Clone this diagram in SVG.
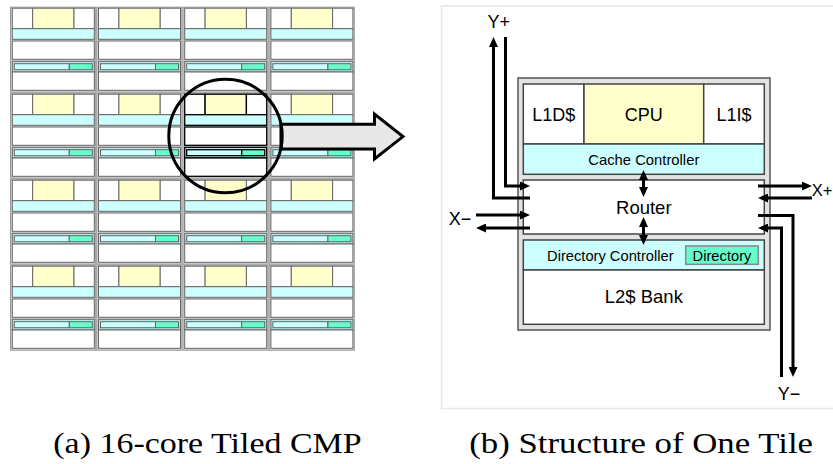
<svg xmlns="http://www.w3.org/2000/svg" xmlns:xlink="http://www.w3.org/1999/xlink" width="833" height="464" viewBox="0 0 833 464">
<style>
.lbl{font-family:"Liberation Sans",Arial,sans-serif;fill:#000;text-anchor:middle}
.cap{font-family:"Liberation Serif","Times New Roman",serif;font-size:28.5px;fill:#000}
.box{stroke:#444;stroke-width:1.5}
.wire{fill:none;stroke:#000;stroke-width:3;stroke-linejoin:miter}
</style>
<defs>
<marker id="ah" markerUnits="userSpaceOnUse" markerWidth="10" markerHeight="9" refX="3" refY="4.5" orient="auto-start-reverse">
<path d="M0,0 L10,4.5 L0,9 z" fill="#000"/>
</marker>
<symbol id="tile" overflow="visible">
<rect x="0.5" y="0.5" width="85.2" height="85" fill="#d6d6d6" stroke="#999" stroke-width="1"/>
<rect x="2.3" y="1.5" width="20.4" height="20.5" fill="#fff"/>
<rect x="22.7" y="1.5" width="41.3" height="20.5" fill="#ffffcc"/>
<rect x="64" y="1.5" width="20.3" height="20.5" fill="#fff"/>
<rect x="2.3" y="22" width="82" height="10.6" fill="#ccffff"/>
<rect x="2.3" y="34.3" width="82" height="18.3" fill="#fff"/>
<rect x="2.3" y="54.6" width="82" height="10.7" fill="#b4e6e6"/>
<rect x="4.3" y="57" width="55" height="6" fill="#ccffff"/>
<rect x="59.3" y="57" width="23" height="6" fill="#66ffcc"/>
<rect x="2.3" y="65.3" width="82" height="18.3" fill="#fff"/>
</symbol>
</defs>
<rect width="833" height="464" fill="#fff"/>

<g id="grid">
<use xlink:href="#tile" x="10" y="6.7" stroke="#666" stroke-width="1"/>
<use xlink:href="#tile" x="96.2" y="6.7" stroke="#666" stroke-width="1"/>
<use xlink:href="#tile" x="182.4" y="6.7" stroke="#666" stroke-width="1"/>
<use xlink:href="#tile" x="268.6" y="6.7" stroke="#666" stroke-width="1"/>
<use xlink:href="#tile" x="10" y="92.7" stroke="#666" stroke-width="1"/>
<use xlink:href="#tile" x="96.2" y="92.7" stroke="#666" stroke-width="1"/>
<use xlink:href="#tile" x="182.4" y="92.7" stroke="#000" stroke-width="1.3"/>
<use xlink:href="#tile" x="268.6" y="92.7" stroke="#666" stroke-width="1"/>
<use xlink:href="#tile" x="10" y="178.7" stroke="#666" stroke-width="1"/>
<use xlink:href="#tile" x="96.2" y="178.7" stroke="#666" stroke-width="1"/>
<use xlink:href="#tile" x="182.4" y="178.7" stroke="#666" stroke-width="1"/>
<use xlink:href="#tile" x="268.6" y="178.7" stroke="#666" stroke-width="1"/>
<use xlink:href="#tile" x="10" y="264.7" stroke="#666" stroke-width="1"/>
<use xlink:href="#tile" x="96.2" y="264.7" stroke="#666" stroke-width="1"/>
<use xlink:href="#tile" x="182.4" y="264.7" stroke="#666" stroke-width="1"/>
<use xlink:href="#tile" x="268.6" y="264.7" stroke="#666" stroke-width="1"/>
</g>

<g id="zoom-arrow">
<polygon points="281,124.3 374.5,124.3 374.5,114 403,136.6 374.5,159 374.5,149 281,149" fill="#e8e8e8" stroke="#000" stroke-width="3" stroke-linejoin="miter"/>
<circle cx="225.5" cy="136" r="56.7" fill="none" stroke="#000" stroke-width="3"/>
</g>

<rect x="441.5" y="6" width="400" height="402.5" fill="none" stroke="#e8e8e8" stroke-width="1.5"/>

<g id="tile-big">
<rect x="518" y="78" width="252" height="252" fill="#e3e3e3" stroke="#555" stroke-width="1.5"/>
</g>
<g id="l1d"><rect class="box" x="523.3" y="84" width="60.7" height="60" fill="#fff"/><text class="lbl" x="553.7" y="121" font-size="18">L1D$</text></g>
<g id="cpu"><rect class="box" x="584" y="84" width="119.7" height="60" fill="#ffffcc"/><text class="lbl" x="643.8" y="121" font-size="18">CPU</text></g>
<g id="l1i"><rect class="box" x="703.7" y="84" width="60.6" height="60" fill="#fff"/><text class="lbl" x="734" y="121" font-size="18">L1I$</text></g>
<g id="cache-ctrl"><rect class="box" x="523.3" y="144" width="241" height="30.3" fill="#ccffff"/><text class="lbl" x="643.8" y="164.5" font-size="14.8">Cache Controller</text></g>
<g id="router"><rect class="box" x="523.3" y="180" width="241" height="54" fill="#fff"/><text class="lbl" x="643.8" y="213.5" font-size="18.5">Router</text></g>
<g id="dir-ctrl"><rect class="box" x="523.3" y="240" width="241" height="30" fill="#ccffff"/><text class="lbl" x="610.3" y="261" font-size="14.7">Directory Controller</text></g>
<g id="directory"><rect x="685.7" y="246" width="72.6" height="18.3" fill="#66ffcc" stroke="#888" stroke-width="1.5"/><text class="lbl" x="722" y="261" font-size="14.7">Directory</text></g>
<g id="l2"><rect class="box" x="523.3" y="270" width="241" height="54.3" fill="#fff"/><text class="lbl" x="643.8" y="303" font-size="18.5">L2$ Bank</text></g>

<g id="connectors">
<path class="wire" d="M530,198 H493.5 V44" marker-end="url(#ah)"/>
<path class="wire" d="M505.5,37 V186 H523" marker-end="url(#ah)"/>
<path class="wire" d="M476,215 H523" marker-end="url(#ah)"/>
<path class="wire" d="M530,228 H483" marker-end="url(#ah)"/>
<path class="wire" d="M758,186 H805" marker-end="url(#ah)"/>
<path class="wire" d="M812,198 H765" marker-end="url(#ah)"/>
<path class="wire" d="M758,215.5 H793 V370" marker-end="url(#ah)"/>
<path class="wire" d="M781.5,377 V228 H765" marker-end="url(#ah)"/>
<path class="wire" d="M643.5,177 V190" marker-start="url(#ah)" marker-end="url(#ah)"/>
<path class="wire" d="M643.5,224 V238" marker-start="url(#ah)" marker-end="url(#ah)"/>
</g>

<g id="port-labels">
<text class="lbl" x="498.7" y="28.3" font-size="18">Y+</text>
<text class="lbl" x="460" y="225" font-size="18">X−</text>
<text class="lbl" x="832.3" y="196" font-size="16.5" style="text-anchor:end">X+</text>
<text class="lbl" x="789" y="400" font-size="18">Y−</text>
</g>

<g id="captions">
<text class="cap" x="53.3" y="452.5" textLength="308.4" lengthAdjust="spacingAndGlyphs">(a) 16-core Tiled CMP</text>
<text class="cap" x="469.3" y="452.5" textLength="343.7" lengthAdjust="spacingAndGlyphs">(b) Structure of One Tile</text>
</g>
</svg>
